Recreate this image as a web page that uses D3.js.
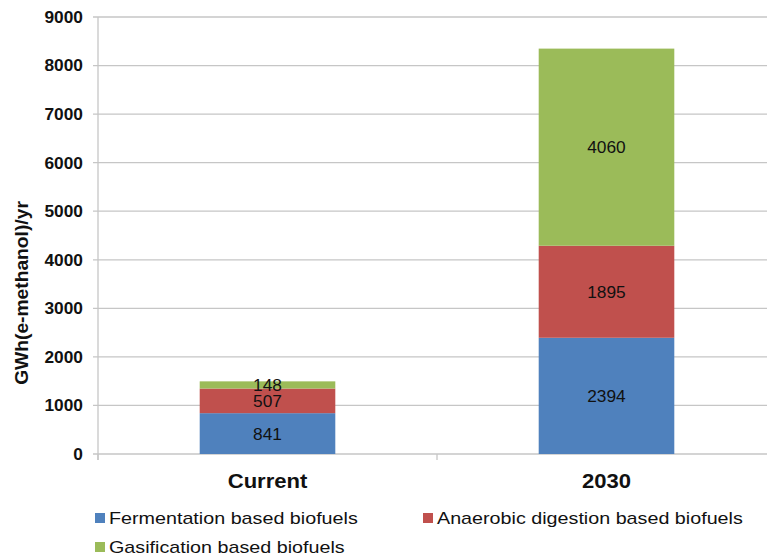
<!DOCTYPE html>
<html><head><meta charset="utf-8">
<script src="https://cdn.jsdelivr.net/npm/d3@7"></script>
<style>body{margin:0;background:#fff;} svg{display:block;font-family:"Liberation Sans",Arial,sans-serif;}</style>
</head><body>
<svg id="c" width="767" height="559"></svg>
<script>
const categories = ["Current", "2030"];
const seriesNames = ["Fermentation based biofuels", "Anaerobic digestion based biofuels", "Gasification based biofuels"];
const fermentation = [841, 2394];
const anaerobic = [507, 1895];
const gasification = [148, 4060];
const yTicks = [0,1000,2000,3000,4000,5000,6000,7000,8000,9000];
const colors = ["#4F81BD", "#C0504D", "#9BBB59"];

const svg = d3.select("#c");
const L = 98, R = 776, T = 17, B = 454;
const x = d3.scaleBand().domain(categories).range([L, R]).paddingInner(0).paddingOuter(0);
const y = d3.scaleLinear().domain([0, 9000]).range([B, T]);
const barW = x.bandwidth() * 0.4;

// gridlines
svg.append("g").selectAll("line").data(yTicks).join("line")
  .attr("x1", L - 5).attr("x2", R).attr("y1", d => y(d)).attr("y2", d => y(d))
  .attr("stroke", "#c6c6c6").attr("stroke-width", 1.3);

// y axis line
svg.append("line").attr("x1", L).attr("x2", L).attr("y1", T).attr("y2", B + 6)
  .attr("stroke", "#c6c6c6").attr("stroke-width", 1.3);
// x category ticks
svg.append("g").selectAll("line").data([L, x("2030"), R]).join("line")
  .attr("x1", d => d).attr("x2", d => d).attr("y1", B).attr("y2", B + 6)
  .attr("stroke", "#c6c6c6").attr("stroke-width", 1.3);

// y tick labels
svg.append("g").selectAll("text").data(yTicks).join("text")
  .attr("transform", d => `translate(83,${y(d)}) scale(1.05,1)`)
  .attr("dy", "0.36em")
  .attr("text-anchor", "end").attr("font-weight", "bold").attr("font-size", 16.5)
  .attr("fill", "#111").text(d => d);

// y title
svg.append("text").attr("transform", "translate(28,293) rotate(-90) scale(1.1,1)")
  .attr("text-anchor", "middle").attr("font-weight", "bold").attr("font-size", 17.5)
  .attr("fill", "#111").text("GWh(e-methanol)/yr");

// stacked data
const rows = categories.map((c, i) => ({cat: c, f: fermentation[i], a: anaerobic[i], g: gasification[i]}));
const stack = d3.stack().keys(["f", "a", "g"])(rows);

const layers = svg.append("g").selectAll("g").data(stack).join("g").attr("fill", (d, i) => colors[i]);
layers.selectAll("rect").data(d => d).join("rect")
  .attr("x", d => x(d.data.cat) + (x.bandwidth() - barW) / 2)
  .attr("width", barW)
  .attr("y", d => y(d[1]))
  .attr("height", d => y(d[0]) - y(d[1]));

// labels
layers.selectAll("text").data(d => d.map(v => ({v, key: d.key}))).join("text")
  .attr("transform", d => `translate(${x(d.v.data.cat) + x.bandwidth() / 2},${(y(d.v[0]) + y(d.v[1])) / 2}) scale(1.05,1)`)
  .attr("dy", "0.36em").attr("text-anchor", "middle").attr("font-size", 16.5)
  .attr("fill", "#111").text(d => d.v.data[d.key]);

// category labels
svg.append("g").selectAll("text").data(categories).join("text")
  .attr("transform", d => `translate(${x(d) + x.bandwidth() / 2},488) scale(1.05,1)`)
  .attr("text-anchor", "middle").attr("font-weight", "bold").attr("font-size", 21)
  .attr("fill", "#111").text(d => d);

// legend
const legPos = [[95, 518], [423, 518], [95, 547]];
const leg = svg.append("g").selectAll("g").data(seriesNames).join("g")
  .attr("transform", (d, i) => `translate(${legPos[i][0]},${legPos[i][1]})`);
leg.append("rect").attr("x", 0).attr("y", -5).attr("width", 10).attr("height", 10).attr("fill", (d, i) => colors[i]);
leg.append("text").attr("transform", "translate(14,0) scale(1.16,1)").attr("dy", "0.36em").attr("font-size", 17)
  .attr("fill", "#111").text(d => d);
</script>
</body></html>
